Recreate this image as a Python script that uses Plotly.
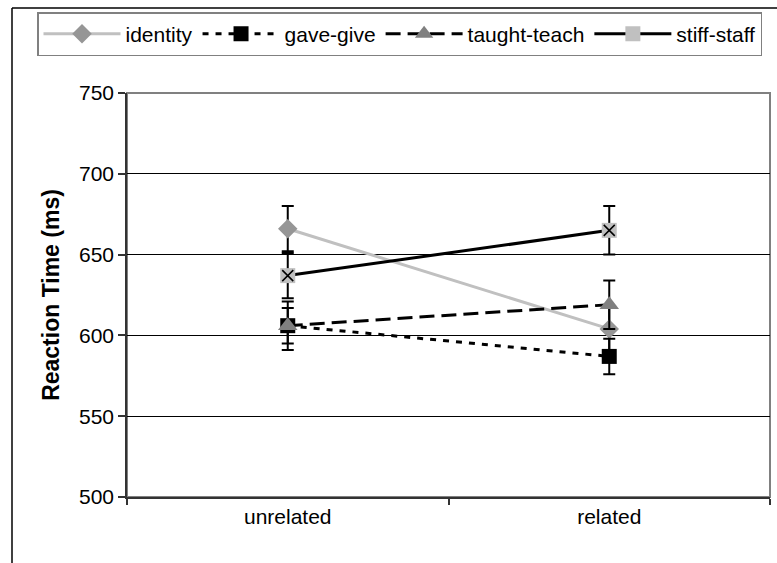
import plotly.graph_objects as go

categories = ["unrelated", "related"]
identity = [666, 604]
identity_err = [14, 14]
gave_give = [606, 587]
gave_give_err = [11, 11]
taught_teach = [606, 619]
taught_teach_err = [15, 15]
stiff_staff = [637, 665]
stiff_staff_err = [14, 15]
y_ticks = [500, 550, 600, 650, 700, 750]

FONT = "Liberation Sans"
W, H = 777, 563
L, R, T, B = 127, 7, 93, 66

def err(vals):
    return dict(type="data", array=vals, visible=True, color="black", thickness=2, width=6)

fig = go.Figure()
fig.add_trace(go.Scatter(
    x=categories, y=identity, name="identity", mode="lines+markers",
    line=dict(color="#c0c0c0", width=3),
    marker=dict(symbol="diamond", size=15, color="#969696"),
    error_y=err(identity_err)))
fig.add_trace(go.Scatter(
    x=categories, y=gave_give, name="gave-give", mode="lines+markers",
    line=dict(color="black", width=3, dash="6px,7px"),
    marker=dict(symbol="square", size=15, color="black"),
    error_y=err(gave_give_err)))
fig.add_trace(go.Scatter(
    x=categories, y=taught_teach, name="taught-teach", mode="lines+markers",
    line=dict(color="black", width=3, dash="15px,7px"),
    marker=dict(symbol="triangle-up", size=17, color="#808080"),
    error_y=err(taught_teach_err)))
fig.add_trace(go.Scatter(
    x=categories, y=stiff_staff, name="stiff-staff", mode="lines+markers",
    line=dict(color="black", width=3),
    marker=dict(symbol="square", size=15, color="#c0c0c0"),
    error_y=err(stiff_staff_err)))
fig.add_trace(go.Scatter(
    x=categories, y=stiff_staff, mode="markers", showlegend=False,
    marker=dict(symbol="x-thin-open", size=11, color="black",
                line=dict(color="black", width=1.5))))

pw = W - L - R
ph = H - T - B
def px2x(px):
    return (px - L) / pw
def py2y(py):
    return (H - B - py) / ph

shapes = [
    dict(type="rect", xref="paper", yref="paper", x0=0, y0=0, x1=1, y1=1,
         line=dict(color="#808080", width=2), layer="between"),
    dict(type="line", xref="paper", yref="paper", x0=px2x(12), x1=px2x(800),
         y0=py2y(8), y1=py2y(8), line=dict(color="black", width=1.5)),
    dict(type="line", xref="paper", yref="paper", x0=px2x(12), x1=px2x(12),
         y0=py2y(8), y1=py2y(600), line=dict(color="black", width=1.5)),
]

fig.update_layout(
    width=W, height=H,
    margin=dict(l=L, r=R, t=T, b=B, pad=0),
    paper_bgcolor="white", plot_bgcolor="white",
    font=dict(family=FONT, size=21, color="black"),
    shapes=shapes,
    showlegend=True,
    legend=dict(orientation="h", x=px2x(37), y=py2y(12), xanchor="left", yanchor="top",
                bordercolor="#808080", borderwidth=1.5, bgcolor="white",
                font=dict(family=FONT, size=21), itemwidth=77,
                tracegroupgap=0),
    xaxis=dict(type="category", range=[-0.5, 1.5], tickson="boundaries",
               ticks="outside", ticklen=6, tickcolor="#333333", tickwidth=1.5,
               showline=True, linecolor="#333333", linewidth=2,
               showgrid=False, tickfont=dict(size=21), fixedrange=True),
    yaxis=dict(range=[500, 750], tickvals=y_ticks, ticks="outside", ticklen=7,
               tickcolor="#333333", tickwidth=1.5,
               showline=True, linecolor="#333333", linewidth=1.5,
               showgrid=True, gridcolor="black", gridwidth=1, zeroline=False,
               title=dict(text="<b>Reaction Time (ms)</b>", font=dict(size=23), standoff=13),
               tickfont=dict(size=21), fixedrange=True),
)

fig.write_html("out.html")
